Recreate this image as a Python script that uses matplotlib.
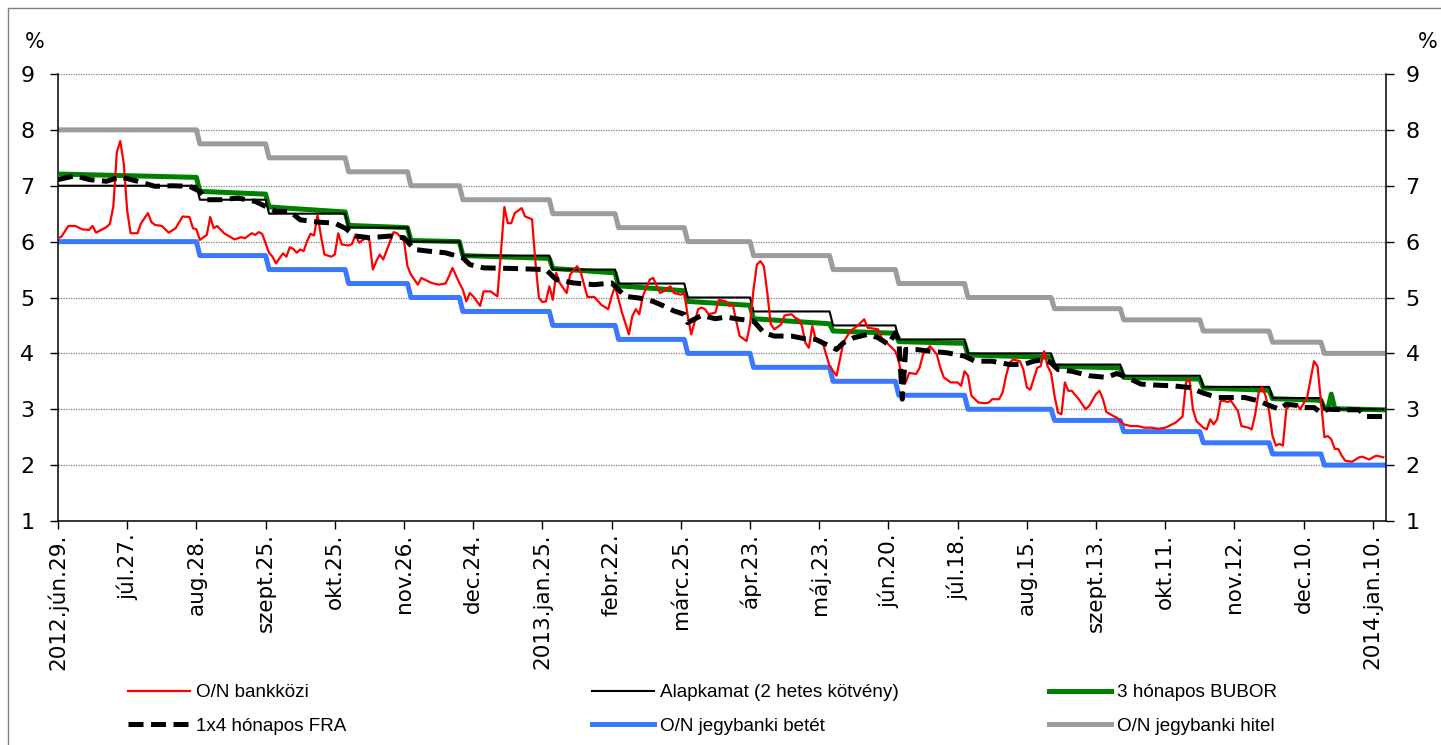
import numpy as np
import matplotlib
matplotlib.use("Agg")
import matplotlib.pyplot as plt
from matplotlib.lines import Line2D
from matplotlib.patches import Rectangle

# ---------------------------------------------------------------------------
# Data: trading-day index (0 = 2012.jún.29.) ; rates in %
# ---------------------------------------------------------------------------
tick_labels = ["2012.jún.29.", "júl.27.", "aug.28.", "szept.25.", "okt.25.",
               "nov.26.", "dec.24.", "2013.jan.25.", "febr.22.", "márc.25.",
               "ápr.23.", "máj.23.", "jún.20.", "júl.18.", "aug.15.",
               "szept.13.", "okt.11.", "nov.12.", "dec.10.", "2014.jan.10."]

# policy-rate regime lengths (trading days) and the levels within each regime
step_len = [41, 20, 23, 18, 15, 26, 19, 20, 19, 23, 19, 20, 25, 20, 23, 20, 15, 18]
alapkamat = [7.00, 6.75, 6.50, 6.25, 6.00, 5.75, 5.50, 5.25, 5.00, 4.75,
             4.50, 4.25, 4.00, 3.80, 3.60, 3.40, 3.20, 3.00]
betet = [6.00, 5.75, 5.50, 5.25, 5.00, 4.75, 4.50, 4.25, 4.00, 3.75,
         3.50, 3.25, 3.00, 2.80, 2.60, 2.40, 2.20, 2.00]
hitel = [8.00, 7.75, 7.50, 7.25, 7.00, 6.75, 6.50, 6.25, 6.00, 5.75,
         5.50, 5.25, 5.00, 4.80, 4.60, 4.40, 4.20, 4.00]

on_day = [0, 1, 3, 5, 7, 9, 10, 11, 14, 15, 16, 17, 18, 19, 20, 21, 23, 24, 26, 27,
          28, 30, 32, 34, 36, 38, 39, 40, 41, 43, 44, 45, 46, 48, 51, 53, 54, 56, 57, 58,
          59, 61, 62, 63, 65, 66, 67, 68, 69, 70, 71, 72, 73, 74, 75, 76, 77, 79, 80, 81,
          82, 84, 85, 86, 87, 89, 90, 91, 92, 93, 94, 96, 97, 98, 100, 101, 102, 104, 105, 106,
          108, 110, 112, 113, 114, 116, 117, 118, 119, 120, 122, 123, 125, 127, 128, 129, 130, 131, 132, 134,
          135, 137, 138, 139, 140, 141, 142, 143, 144, 145, 147, 148, 150, 151, 153, 155, 157, 159, 160, 161,
          163, 165, 166, 167, 168, 169, 171, 172, 174, 175, 177, 178, 180, 181, 182, 183, 185, 186, 187, 188,
          190, 191, 193, 194, 195, 196, 197, 199, 200, 201, 202, 203, 204, 205, 206, 207, 209, 210, 212, 213,
          214, 215, 216, 217, 218, 219, 221, 222, 223, 225, 226, 227, 229, 231, 233, 234, 237, 238, 240, 242,
          243, 244, 245, 246, 248, 249, 250, 252, 254, 255, 256, 258, 260, 261, 262, 263, 264, 266, 268, 269,
          270, 272, 273, 274, 275, 276, 278, 279, 280, 281, 283, 284, 285, 286, 287, 288, 289, 290, 291, 292,
          293, 295, 297, 298, 300, 301, 302, 303, 305, 306, 308, 310, 312, 314, 316, 318, 320, 321, 323, 325,
          326, 327, 328, 329, 331, 332, 333, 334, 335, 336, 337, 338, 339, 341, 342, 344, 345, 346, 347, 348,
          349, 350, 351, 352, 353, 354, 355, 356, 358, 359, 361, 362, 363, 364, 365, 366, 367, 368, 369, 370,
          371, 372, 374, 376, 377, 379, 380, 381, 383]
on_rate = [6.06, 6.09, 6.28, 6.28, 6.22, 6.21, 6.28, 6.16, 6.26, 6.32, 6.63, 7.60, 7.80, 7.40, 6.55, 6.15, 6.15, 6.33, 6.51, 6.35,
           6.30, 6.28, 6.16, 6.24, 6.45, 6.44, 6.24, 6.22, 6.03, 6.12, 6.44, 6.24, 6.28, 6.15, 6.04, 6.08, 6.06, 6.15, 6.12, 6.17,
           6.14, 5.80, 5.73, 5.61, 5.79, 5.73, 5.90, 5.87, 5.80, 5.86, 5.83, 6.01, 6.14, 6.11, 6.48, 6.10, 5.77, 5.73, 5.77, 6.15,
           5.95, 5.93, 5.96, 6.13, 5.98, 6.07, 6.02, 5.50, 5.65, 5.77, 5.68, 6.01, 6.17, 6.15, 6.01, 5.56, 5.41, 5.23, 5.35, 5.32,
           5.26, 5.23, 5.25, 5.38, 5.53, 5.26, 5.14, 4.93, 5.08, 5.02, 4.85, 5.11, 5.11, 5.02, 5.80, 6.62, 6.33, 6.33, 6.51, 6.60,
           6.45, 6.40, 5.62, 4.99, 4.92, 4.93, 5.20, 4.96, 5.44, 5.26, 5.08, 5.41, 5.56, 5.47, 5.01, 5.01, 4.87, 4.79, 5.02, 5.20,
           4.73, 4.34, 4.67, 4.79, 4.70, 5.02, 5.32, 5.35, 5.08, 5.11, 5.20, 5.08, 5.05, 5.08, 4.67, 4.34, 4.79, 4.82, 4.79, 4.70,
           4.73, 4.96, 4.93, 4.85, 4.88, 4.58, 4.31, 4.22, 4.52, 5.14, 5.59, 5.65, 5.56, 5.08, 4.52, 4.43, 4.52, 4.68, 4.70, 4.64,
           4.61, 4.49, 4.19, 4.10, 4.49, 4.25, 4.19, 3.98, 3.77, 3.60, 3.90, 4.20, 4.40, 4.49, 4.61, 4.46, 4.43, 4.28, 4.16, 4.04,
           3.86, 3.54, 3.48, 3.65, 3.63, 3.74, 3.98, 4.13, 3.98, 3.74, 3.57, 3.48, 3.48, 3.42, 3.68, 3.60, 3.24, 3.12, 3.11, 3.12,
           3.18, 3.18, 3.30, 3.60, 3.83, 3.89, 3.86, 3.71, 3.39, 3.35, 3.74, 3.77, 4.04, 3.77, 3.65, 3.24, 2.94, 2.91, 3.48, 3.33,
           3.33, 3.18, 3.00, 3.06, 3.27, 3.33, 3.18, 2.95, 2.88, 2.85, 2.73, 2.70, 2.70, 2.67, 2.67, 2.65, 2.67, 2.70, 2.76, 2.87,
           3.48, 3.54, 3.00, 2.79, 2.67, 2.64, 2.82, 2.73, 2.82, 3.15, 3.15, 3.13, 3.15, 2.97, 2.70, 2.67, 2.64, 2.91, 3.30, 3.40,
           3.24, 2.97, 2.52, 2.35, 2.38, 2.35, 3.00, 3.07, 3.09, 3.00, 3.21, 3.54, 3.86, 3.77, 3.15, 2.50, 2.52, 2.46, 2.29, 2.29,
           2.17, 2.08, 2.06, 2.14, 2.15, 2.10, 2.14, 2.17, 2.14]

bubor_day = [0, 40, 41, 60, 61, 83, 84, 101, 102, 116, 117, 142, 143, 161, 162, 181, 182, 200, 201, 223,
             224, 242, 243, 262, 263, 287, 288, 307, 308, 330, 331, 350, 351, 365, 366, 367, 368, 369, 383]
bubor = [7.21, 7.15, 6.90, 6.85, 6.62, 6.53, 6.29, 6.25, 6.02, 6.00, 5.75, 5.70, 5.52, 5.44, 5.21, 5.12, 4.93, 4.86, 4.62, 4.53,
         4.40, 4.36, 4.21, 4.18, 3.97, 3.93, 3.77, 3.74, 3.57, 3.54, 3.38, 3.34, 3.19, 3.16, 3.01, 3.01, 3.27, 3.01, 2.99]

fra_day = [0, 5, 9, 14, 18, 23, 28, 33, 38, 41, 43, 47, 52, 57, 60, 63, 67, 70, 75, 80,
           83, 86, 90, 96, 100, 103, 107, 112, 117, 119, 123, 131, 141, 144, 149, 155, 160, 164, 168, 172,
           175, 178, 181, 182, 186, 190, 193, 197, 201, 204, 207, 212, 216, 219, 222, 225, 227, 230, 234, 237,
           240, 242, 243, 244, 245, 248, 252, 257, 262, 265, 270, 275, 279, 282, 285, 287, 289, 293, 298, 303,
           306, 309, 313, 318, 322, 327, 331, 335, 339, 343, 347, 350, 353, 355, 358, 360, 363, 365, 367, 372,
           376, 378, 383]
fra = [7.11, 7.18, 7.11, 7.08, 7.16, 7.08, 6.99, 7.00, 6.99, 6.90, 6.75, 6.75, 6.78, 6.72, 6.63, 6.54, 6.54, 6.39, 6.35, 6.33,
       6.24, 6.10, 6.07, 6.10, 6.07, 5.86, 5.83, 5.80, 5.71, 5.59, 5.53, 5.52, 5.50, 5.32, 5.26, 5.23, 5.26, 5.02, 4.99, 4.93,
       4.85, 4.76, 4.70, 4.55, 4.68, 4.62, 4.65, 4.61, 4.58, 4.37, 4.31, 4.31, 4.26, 4.25, 4.16, 4.07, 4.19, 4.28, 4.34, 4.28,
       4.16, 4.37, 4.25, 3.18, 4.07, 4.07, 4.04, 4.01, 3.95, 3.86, 3.86, 3.80, 3.80, 3.86, 3.89, 3.83, 3.71, 3.68, 3.60, 3.57,
       3.64, 3.57, 3.45, 3.43, 3.42, 3.39, 3.29, 3.21, 3.21, 3.21, 3.15, 3.07, 3.00, 3.09, 3.07, 3.03, 3.03, 2.94, 3.00, 2.99,
       2.99, 2.87, 2.87]

# ---------------------------------------------------------------------------
W, H = 1441, 745
fig = plt.figure(figsize=(W / 100, H / 100), dpi=100)
ax = fig.add_axes([58 / W, 1 - 521 / H, (1386 - 58) / W, (521 - 74) / H])

days = np.arange(sum(step_len))
s_alap = np.repeat(alapkamat, step_len)
s_betet = np.repeat(betet, step_len)
s_hitel = np.repeat(hitel, step_len)

C_RED, C_GREEN, C_BLUE, C_GREY = "#FF0000", "#008000", "#3C78FF", "#9C9C9C"

ax.plot(days, s_hitel, color=C_GREY, lw=3.6, zorder=2)
ax.plot(days, s_betet, color=C_BLUE, lw=3.6, zorder=2)
ax.plot(bubor_day, bubor, color=C_GREEN, lw=3.6, zorder=3)
ax.plot(days, s_alap, color="black", lw=1.5, zorder=4)
ax.plot(on_day, on_rate, color=C_RED, lw=1.6, zorder=5)
ax.plot(fra_day, fra, color="black", lw=3.6, dashes=(3, 1.5), zorder=6)

ax.set_xlim(0, 383.8)
ax.set_ylim(1, 9)
ax.set_yticks(range(1, 10))
ax.yaxis.grid(True, color="#7F7F7F", ls=(0, (1, 1)), lw=0.9)
ax.set_xticks(range(0, 381, 20))
ax.set_xticklabels(tick_labels, rotation=90, va="top", ha="center", fontsize=15.5)
ax.tick_params(axis="x", direction="out", length=6, width=1, pad=3)
ax.tick_params(axis="y", direction="out", length=6, width=1, pad=11, labelsize=16)
for s in ("top", "right"):
    ax.spines[s].set_visible(False)
for s in ("left", "bottom"):
    ax.spines[s].set_linewidth(1.1)

ax2 = ax.twinx()
ax2.set_ylim(1, 9)
ax2.set_yticks(range(1, 10))
ax2.tick_params(axis="y", direction="out", length=6, width=1, pad=8, labelsize=16)
for s in ("top", "left", "bottom"):
    ax2.spines[s].set_visible(False)
ax2.spines["right"].set_linewidth(1.1)

fig.text(35 / W, 1 - 42 / H, "%", ha="center", va="center", fontsize=15)
fig.text(1428 / W, 1 - 42 / H, "%", ha="center", va="center", fontsize=15)

# legend: three two-row columns
leg_font = {"family": ["Liberation Sans", "DejaVu Sans"], "size": 13.6}
cols = [
    (128, [Line2D([], [], color=C_RED, lw=1.6),
           Line2D([], [], color="black", lw=3.6, dashes=(3, 1.5))],
     ["O/N bankközi", "1x4 hónapos FRA"]),
    (592, [Line2D([], [], color="black", lw=1.5),
           Line2D([], [], color=C_BLUE, lw=3.6)],
     ["Alapkamat (2 hetes kötvény)", "O/N jegybanki betét"]),
    (1049, [Line2D([], [], color=C_GREEN, lw=3.6),
            Line2D([], [], color=C_GREY, lw=3.6)],
     ["3 hónapos BUBOR", "O/N jegybanki hitel"]),
]
for x0, hs, ls in cols:
    fig.legend(hs, ls, loc="center left", bbox_to_anchor=(x0 / W, 1 - 709.5 / H),
               frameon=False, prop=leg_font, handlelength=3.3, handletextpad=0.3,
               borderpad=0, borderaxespad=0, labelspacing=0.85)

fig.add_artist(Rectangle((8 / W, -0.1), 2, 1 - 8 / H + 0.1, transform=fig.transFigure,
                         fill=False, ec="#808080", lw=1))

fig.savefig("out.png", dpi=100)
